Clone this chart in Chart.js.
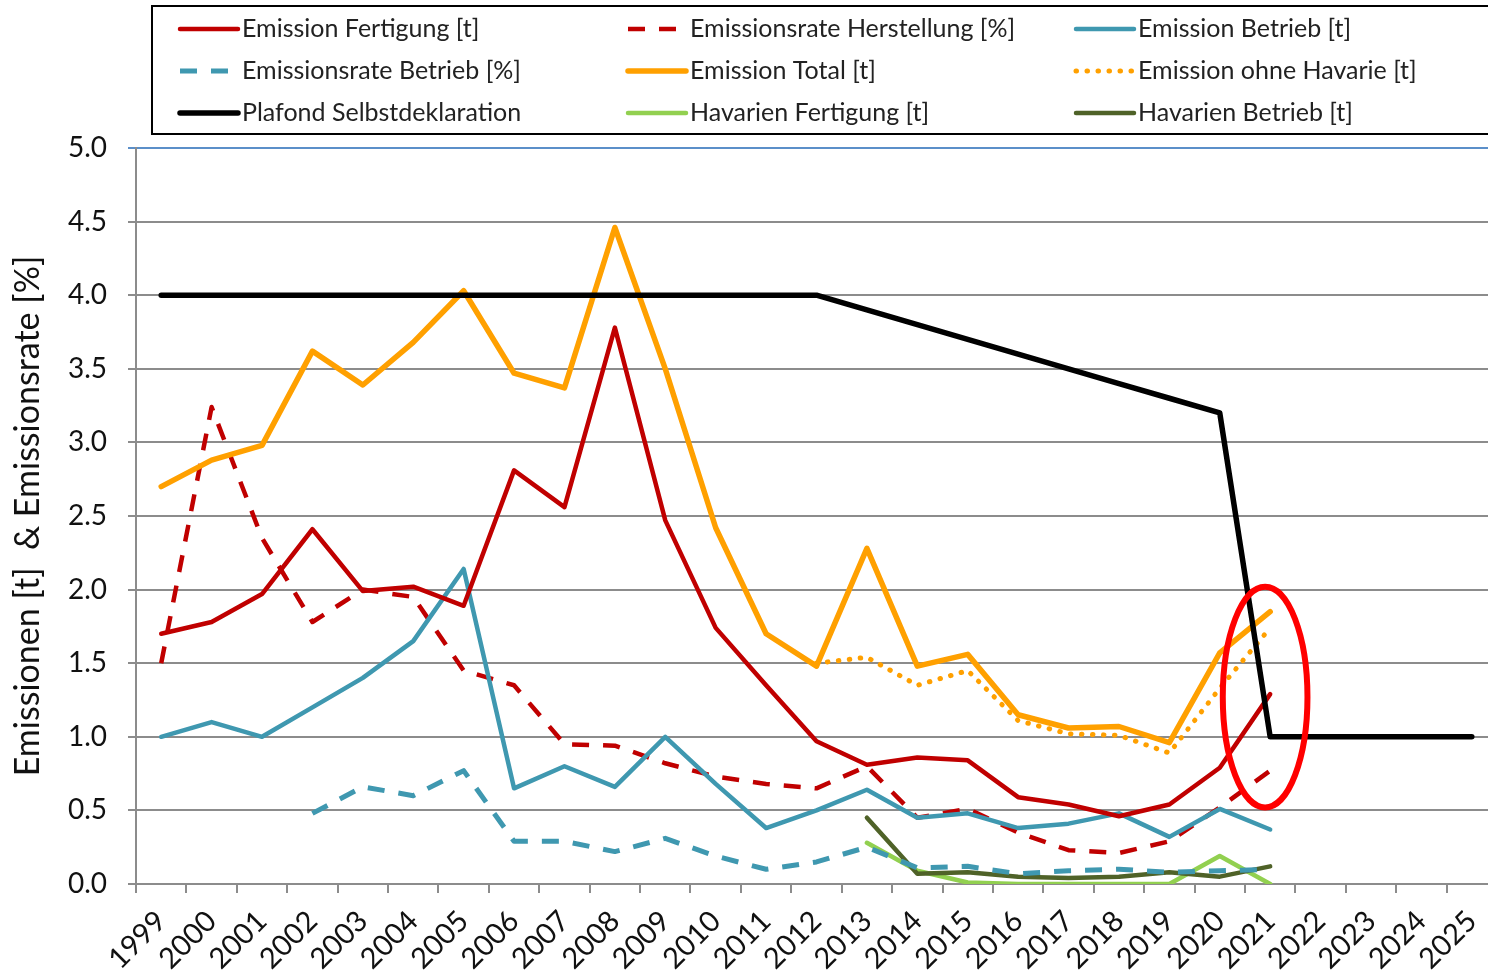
<!DOCTYPE html>
<html>
<head>
<meta charset="utf-8">
<script src="https://cdn.jsdelivr.net/npm/chart.js@4/dist/chart.umd.min.js"></script>
<style>
  html, body { margin: 0; padding: 0; background: #fff; overflow: hidden; }
  #chart { display: block; }
</style>
</head>
<body>
<canvas id="chart" width="1500" height="974"></canvas>
<script>
const years = ["1999","2000","2001","2002","2003","2004","2005","2006","2007","2008","2009","2010","2011","2012","2013","2014","2015","2016","2017","2018","2019","2020","2021","2022","2023","2024","2025"];

const emissionFertigung = [1.70,1.78,1.97,2.41,1.99,2.02,1.89,2.81,2.56,3.78,2.47,1.74,1.35,0.97,0.81,0.86,0.84,0.59,0.54,0.46,0.54,0.79,1.29];
const rateHerstellung = [1.50,3.24,2.35,1.78,2.00,1.95,1.45,1.35,0.95,0.94,0.82,0.73,0.68,0.65,0.80,0.45,0.51,0.35,0.23,0.21,0.29,0.52,0.77];
const emissionBetrieb = [1.00,1.10,1.00,1.20,1.40,1.65,2.14,0.65,0.80,0.66,1.00,0.68,0.38,0.50,0.64,0.45,0.48,0.38,0.41,0.48,0.32,0.51,0.37];
const rateBetrieb = [null,null,null,0.48,0.66,0.60,0.77,0.29,0.29,0.22,0.31,0.19,0.10,0.15,0.25,0.11,0.12,0.07,0.09,0.10,0.08,0.09,0.10];
const emissionTotal = [2.70,2.88,2.98,3.62,3.39,3.68,4.03,3.47,3.37,4.46,3.50,2.42,1.70,1.48,2.28,1.48,1.56,1.15,1.06,1.07,0.96,1.57,1.85];
const ohneHavarie = [null,null,null,null,null,null,null,null,null,null,null,null,null,1.50,1.54,1.35,1.45,1.11,1.02,1.01,0.89,1.33,1.74];
const plafond = [4.0,4.0,4.0,4.0,4.0,4.0,4.0,4.0,4.0,4.0,4.0,4.0,4.0,4.0,3.9,3.8,3.7,3.6,3.5,3.4,3.3,3.2,1.0,1.0,1.0,1.0,1.0];
const havFertigung = [null,null,null,null,null,null,null,null,null,null,null,null,null,null,0.28,0.09,0.01,0.0,0.0,0.0,0.0,0.19,0.0];
const havBetrieb = [null,null,null,null,null,null,null,null,null,null,null,null,null,null,0.45,0.07,0.08,0.05,0.04,0.05,0.08,0.05,0.12];

const yTicks = [0,0.5,1,1.5,2,2.5,3,3.5,4,4.5,5];

const FONT = "Lato, 'Open Sans', sans-serif";
const RED = "#c00000";
const TEAL = "#3f98b0";
const ORANGE = "#ffa000";
const LIGHTGREEN = "#92d050";
const OLIVE = "#4f6228";
const GRID = "#8c8c8c";

function line(label, data, color, width, extra) {
  return Object.assign({
    label,
    data,
    borderColor: color,
    backgroundColor: color,
    borderWidth: width,
    pointRadius: 0,
    tension: 0,
    fill: false,
    borderJoinStyle: "round",
    borderCapStyle: "round",
  }, extra || {});
}

const datasets = [
  line("Emission Fertigung [t]", emissionFertigung, RED, 4.5, { order: 3 }),
  line("Emissionsrate Herstellung [%]", rateHerstellung, RED, 4.5, { borderDash: [17, 14], borderCapStyle: "butt", order: 5 }),
  line("Emission Betrieb [t]", emissionBetrieb, TEAL, 4.5, { order: 4 }),
  line("Emissionsrate Betrieb [%]", rateBetrieb, TEAL, 5, { borderDash: [17, 14], borderCapStyle: "butt", order: 6 }),
  line("Emission Total [t]", emissionTotal, ORANGE, 5.5, { order: 1 }),
  line("Emission ohne Havarie [t]", ohneHavarie, ORANGE, 5, { borderDash: [0.5, 10.5], order: 2 }),
  line("Plafond Selbstdeklaration", plafond, "#000000", 5.5, { order: 0 }),
  line("Havarien Fertigung [t]", havFertigung, LIGHTGREEN, 4.5, { order: 8 }),
  line("Havarien Betrieb [t]", havBetrieb, OLIVE, 4.5, { order: 7 }),
];

// legend drawn inside the canvas as a boxed 3-column grid
const boxLegend = {
  id: "boxLegend",
  afterDraw(chart) {
    const ctx = chart.ctx;
    ctx.save();
    ctx.lineWidth = 2;
    ctx.strokeStyle = "#000";
    ctx.strokeRect(152, 6, 1400, 128);
    const colX = [180, 628, 1076];
    const rowY = [29, 71, 113];
    ctx.font = "25px " + FONT;
    ctx.textBaseline = "middle";
    ctx.textAlign = "left";
    chart.data.datasets.forEach((ds, i) => {
      const x = colX[i % 3];
      const y = rowY[Math.floor(i / 3)];
      ctx.beginPath();
      ctx.strokeStyle = ds.borderColor;
      ctx.lineWidth = ds.borderWidth;
      ctx.lineCap = ds.borderDash ? (ds.borderCapStyle || "butt") : "round";
      ctx.setLineDash(ds.borderDash || []);
      ctx.moveTo(x, y);
      ctx.lineTo(x + 58, y);
      ctx.stroke();
      ctx.setLineDash([]);
      ctx.fillStyle = "#222";
      ctx.fillText(ds.label, x + 62, y);
    });
    ctx.restore();
  },
};

// red ellipse marking the latest values (data units)
const highlight = { xFrom: 21.06, xTo: 22.74, yFrom: 0.52, yTo: 2.02 };
const ellipseMark = {
  id: "ellipseMark",
  afterDatasetsDraw(chart) {
    const xs = chart.scales.x, ys = chart.scales.y;
    const x1 = xs.getPixelForValue(highlight.xFrom), x2 = xs.getPixelForValue(highlight.xTo);
    const y1 = ys.getPixelForValue(highlight.yTo), y2 = ys.getPixelForValue(highlight.yFrom);
    const ctx = chart.ctx;
    ctx.save();
    ctx.beginPath();
    ctx.ellipse((x1 + x2) / 2, (y1 + y2) / 2, (x2 - x1) / 2, (y2 - y1) / 2, 0, 0, Math.PI * 2);
    ctx.lineWidth = 6;
    ctx.strokeStyle = "#ff0000";
    ctx.stroke();
    ctx.restore();
  },
};

new Chart(document.getElementById("chart"), {
  type: "line",
  data: { labels: years, datasets },
  options: {
    responsive: false,
    animation: false,
    layout: { padding: { top: 148, right: 3, left: 0, bottom: 0 } },
    plugins: {
      legend: { display: false },
      tooltip: { enabled: false },
    },
    scales: {
      x: {
        offset: true,
        afterFit: (scale) => {
          scale.height = 90;
          scale.paddingLeft = 0;
          scale.paddingRight = 0;
        },
        grid: { offset: true, drawOnChartArea: false, drawTicks: true, tickLength: 9, color: GRID, lineWidth: 2 },
        border: { color: GRID, width: 2 },
        ticks: {
          autoSkip: false,
          minRotation: 45,
          maxRotation: 45,
          padding: 11,
          color: "#111",
          font: { family: FONT, size: 29 },
        },
      },
      y: {
        min: 0,
        max: 5,
        afterFit: (scale) => { scale.width = 136; },
        afterBuildTicks: (scale) => { scale.ticks = yTicks.map((v) => ({ value: v })); },
        grid: {
          color: (c) => (c.tick && c.tick.value === 5 ? "#5b8fc9" : GRID),
          lineWidth: 2,
          tickLength: 8,
        },
        border: { color: GRID, width: 2 },
        ticks: {
          padding: 21,
          color: "#111",
          font: { family: FONT, size: 28 },
          callback: (v) => Number(v).toFixed(1),
        },
        title: {
          display: true,
          text: "Emissionen [t]  & Emissionsrate [%]",
          color: "#111",
          font: { family: FONT, size: 34 },
          padding: { top: 8, bottom: 0 },
        },
      },
    },
  },
  plugins: [boxLegend, ellipseMark],
});
</script>
</body>
</html>
